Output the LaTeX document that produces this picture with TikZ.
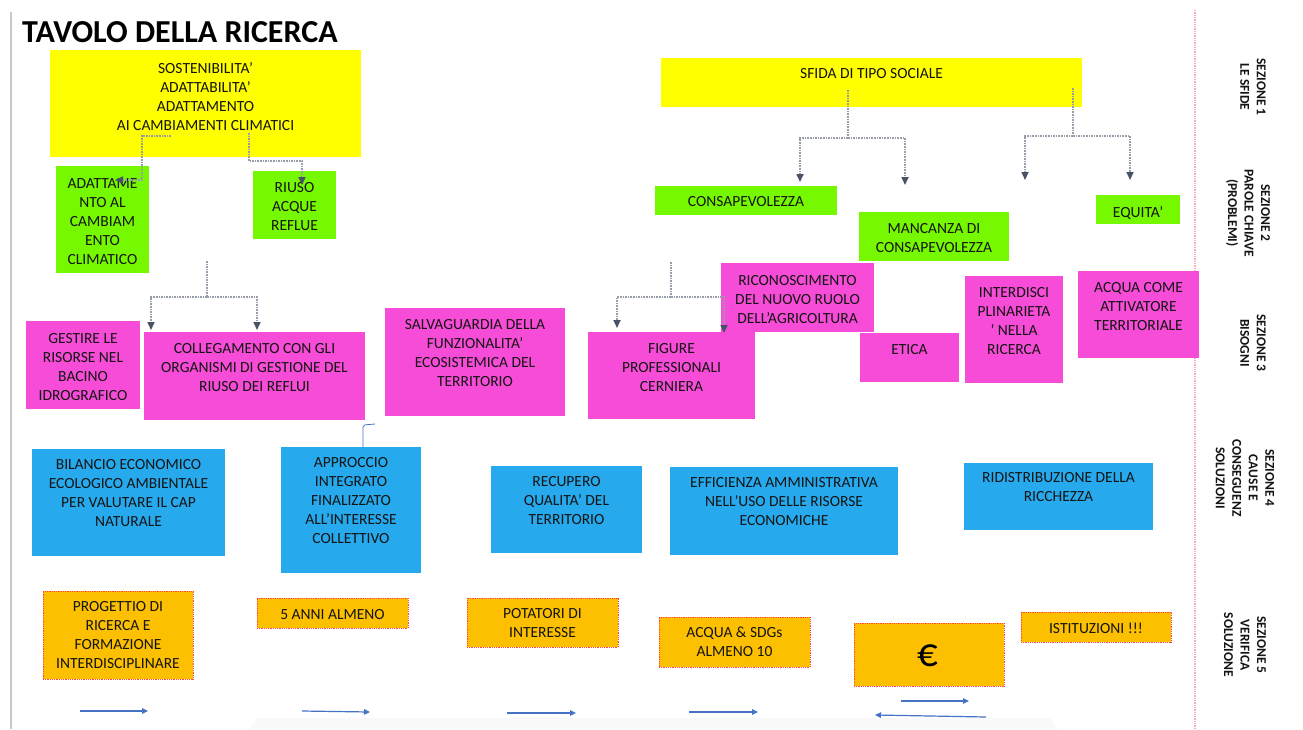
\documentclass[tikz,border=0pt]{standalone}
\usepackage{fontspec}
\setmainfont{Carlito}
\usetikzlibrary{arrows.meta}
\definecolor{cyel}{RGB}{255,255,0}
\definecolor{cgrn}{RGB}{118,248,0}
\definecolor{cpnk}{RGB}{246,76,215}
\definecolor{cblu}{RGB}{38,170,237}
\definecolor{corg}{RGB}{252,192,0}
\definecolor{cred}{RGB}{255,70,70}
\definecolor{ctxt}{RGB}{20,20,20}
\definecolor{cdot}{RGB}{150,156,168}
\definecolor{ctip}{RGB}{72,82,102}
\definecolor{carr}{RGB}{68,114,196}
\definecolor{cgrayline}{RGB}{200,200,200}
\definecolor{cpinkline}{RGB}{245,170,190}
\definecolor{cband}{RGB}{249,249,249}
\newcommand{\bx}[8]{%
  \node[box,#2,minimum width={(#5-#3)*1pt},minimum height={(#6-#4)*1pt}] (#1) at ({(#3+#5)/2},{(#4+#6)/2}) {};
  \node[txt,anchor=north] (#1t) at ({(#3+#5)/2},{#7-5}) {#8};
}
\begin{document}
\begin{tikzpicture}[x=1pt,y=-1pt,
  box/.style={rectangle,inner sep=0pt,outer sep=0pt,draw=none},
  ybox/.style={fill=cyel},
  gbox/.style={fill=cgrn},
  pbox/.style={fill=cpnk},
  bbox/.style={fill=cblu},
  obox/.style={fill=corg,draw=cred,densely dotted,line width=0.8pt},
  txt/.style={inner sep=0pt,align=center,text=ctxt,font=\fontsize{15.5}{19}\selectfont},
  side/.style={inner sep=0pt,align=center,text=ctxt,rotate=-90,font=\bfseries\fontsize{13.5}{16.5}\selectfont},
  conn/.style={draw=cdot,densely dotted,line width=1.6pt},
  conna/.style={conn,-{Triangle[length=8pt,width=7pt,color=ctip]}},
  barrow/.style={draw=carr,line width=1.2pt,-{Triangle[length=6pt,width=5.5pt]}},
  bline/.style={draw=carr,line width=0.8pt,rounded corners=2pt}
]
\useasboundingbox (0,0) rectangle (1303,729);
\fill[white] (0,0) rectangle (1303,729);
% frame lines
\fill[cband] (257,718) -- (1050,718) -- (1058,729) -- (250,729) -- cycle;
\coordinate (gl0) at (11,12); \coordinate (gl1) at (11,729);
\draw[cgrayline,line width=2.5pt] (gl0) -- (gl1);
\coordinate (pl0) at (1195,10); \coordinate (pl1) at (1195,729);
\draw[cpinkline,densely dotted,line width=1.3pt] (pl0) -- (pl1);

% title
\node[anchor=base west,inner sep=0pt,text=black,font=\bfseries\fontsize{32}{36}\selectfont] (title) at (22,42) {TAVOLO DELLA RICERCA};

% yellow
\bx{y1}{ybox}{50}{50}{361}{157}{67}{SOSTENIBILITA’\\ADATTABILITA’\\ADATTAMENTO\\AI CAMBIAMENTI CLIMATICI}
\bx{y2}{ybox}{661}{58}{1082}{107}{73}{SFIDA DI TIPO SOCIALE}

% green
\bx{g1}{gbox}{56}{166}{149}{273}{183}{ADATTAME\\NTO AL\\CAMBIAM\\ENTO\\CLIMATICO}
\bx{g2}{gbox}{253}{171}{336}{239}{187}{RIUSO\\ACQUE\\REFLUE}
\bx{g3}{gbox}{655}{186}{837}{215}{201}{CONSAPEVOLEZZA}
\bx{g4}{gbox}{859}{212}{1009}{261}{228}{MANCANZA DI\\CONSAPEVOLEZZA}
\bx{g5}{gbox}{1096}{195}{1180}{224}{211}{EQUITA’}

% pink
\bx{p1}{pbox}{26}{321}{140}{409}{338}{GESTIRE LE\\RISORSE NEL\\BACINO\\IDROGRAFICO}
\bx{p2}{pbox}{144}{332}{365}{420}{348}{COLLEGAMENTO CON GLI\\ORGANISMI DI GESTIONE DEL\\RIUSO DEI REFLUI}
\bx{p3}{pbox}{385}{308}{565}{416}{324}{SALVAGUARDIA DELLA\\FUNZIONALITA’\\ECOSISTEMICA DEL\\TERRITORIO}
\bx{p5}{pbox}{721}{263}{874}{332}{280}{RICONOSCIMENTO\\DEL NUOVO RUOLO\\DELL’AGRICOLTURA}
\bx{p4}{pbox}{588}{332}{755}{419}{348}{FIGURE\\PROFESSIONALI\\CERNIERA}
\bx{p6}{pbox}{860}{333}{959}{382}{349}{ETICA}
\bx{p7}{pbox}{965}{276}{1063}{383}{292}{INTERDISCI\\PLINARIETA\\’ NELLA\\RICERCA}
\bx{p8}{pbox}{1078}{271}{1199}{358}{287}{ACQUA COME\\ATTIVATORE\\TERRITORIALE}

% blue
\bx{b1}{bbox}{32}{449}{225}{556}{464}{BILANCIO ECONOMICO\\ECOLOGICO AMBIENTALE\\PER VALUTARE IL CAP\\NATURALE}
\bx{b2}{bbox}{281}{447}{421}{573}{462}{APPROCCIO\\INTEGRATO\\FINALIZZATO\\ALL’INTERESSE\\COLLETTIVO}
\bx{b3}{bbox}{491}{466}{642}{553}{481}{RECUPERO\\QUALITA’ DEL\\TERRITORIO}
\bx{b4}{bbox}{670}{467}{898}{555}{482}{EFFICIENZA AMMINISTRATIVA\\NELL’USO DELLE RISORSE\\ECONOMICHE}
\bx{b5}{bbox}{964}{463}{1153}{530}{477}{RIDISTRIBUZIONE DELLA\\RICCHEZZA}

% orange
\bx{o1}{obox}{43}{591}{193}{679}{606}{PROGETTIO DI\\RICERCA E\\FORMAZIONE\\INTERDISCIPLINARE}
\bx{o2}{obox}{257}{598}{408}{628}{614}{5 ANNI ALMENO}
\bx{o3}{obox}{467}{598}{618}{647}{613}{POTATORI DI\\INTERESSE}
\bx{o4}{obox}{659}{617}{810}{667}{632}{ACQUA \& SDGs\\ALMENO 10}
\node[box,obox,minimum width=150pt,minimum height=63pt] (o5) at (929,654.5) {};
\node[inner sep=0pt,text=black,font=\fontsize{41}{41}\selectfont] (eur) at (928,656) {€};
\bx{o6}{obox}{1021}{612}{1171}{642}{628}{ISTITUZIONI !!!}

% connectors (dotted elbow)
\coordinate (cA0) at (171,136); \coordinate (cA1) at (115,180);
\draw[conna] (cA0) -- (142,136) -- (142,180) -- (cA1);
\coordinate (cB0) at (249,133); \coordinate (cB1) at (302,185);
\draw[conna] (cB0) -- (249,161) -| (cB1);

\coordinate (cC0) at (207,261); \coordinate (cC1) at (207,297);
\coordinate (cC2) at (151,330); \coordinate (cC3) at (257,330);
\draw[conn] (cC0) -- (cC1);
\draw[conna] (cC1) -| (cC2);
\draw[conna] (cC1) -| (cC3);

\coordinate (cD0) at (671,262); \coordinate (cD1) at (671,297);
\coordinate (cD2) at (617,328); \coordinate (cD3) at (724,333);
\draw[conn] (cD0) -- (cD1);
\draw[conna] (cD1) -| (cD2);
\draw[conna] (cD1) -| (cD3);

\coordinate (cE0) at (848,90); \coordinate (cE1) at (848,138);
\coordinate (cE2) at (800,182); \coordinate (cE3) at (905,185);
\draw[conn] (cE0) -- (cE1);
\draw[conna] (cE1) -| (cE2);
\draw[conna] (cE1) -| (cE3);

\coordinate (cF0) at (1073,88); \coordinate (cF1) at (1073,136);
\coordinate (cF2) at (1025,180); \coordinate (cF3) at (1130,180);
\draw[conn] (cF0) -- (cF1);
\draw[conna] (cF1) -| (cF2);
\draw[conna] (cF1) -| (cF3);

% small blue bracket above APPROCCIO
\coordinate (br0) at (375,424);
\draw[bline] ([xshift=12pt]b2.north) -- ++(0,-22) -- (br0);

% bottom arrows
\coordinate (a1s) at (80,711);  \coordinate (a1e) at (148,711);
\coordinate (a2s) at (302,711); \coordinate (a2e) at (370,712);
\coordinate (a3s) at (507,713); \coordinate (a3e) at (576,713);
\coordinate (a4s) at (689,712); \coordinate (a4e) at (758,712);
\coordinate (a5s) at (901,701); \coordinate (a5e) at (969,701);
\coordinate (a6s) at (986,717); \coordinate (a6e) at (875,715);
\draw[barrow] (a1s) -- (a1e);
\draw[barrow] (a2s) -- (a2e);
\draw[barrow] (a3s) -- (a3e);
\draw[barrow] (a4s) -- (a4e);
\draw[barrow] (a5s) -- (a5e);
\draw[barrow] (a6s) -- (a6e);

% section labels
\node[side] (s1) at (1253,87) {SEZIONE 1\\LE SFIDE};
\node[side] (s2) at (1248,213) {SEZIONE 2\\PAROLE CHIAVE\\(PROBLEMI)};
\node[side] (s3) at (1253,343) {SEZIONE 3\\BISOGNI};
\node[side] (s4) at (1245,478) {SEZIONE 4\\CAUSE E\\CONSEGUENZ\\SOLUZIONI};
\node[side] (s5) at (1245,645) {SEZIONE 5\\VERIFICA\\SOLUZIONE};
\end{tikzpicture}
\end{document}
